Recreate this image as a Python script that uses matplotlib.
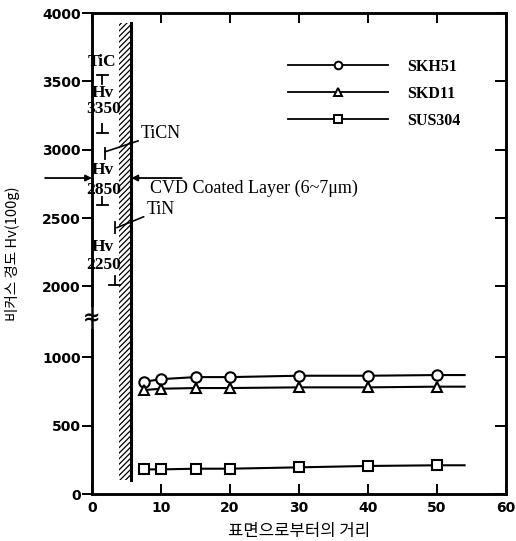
import numpy as np
import matplotlib
matplotlib.use("Agg")
import matplotlib.pyplot as plt
from matplotlib.lines import Line2D

# ---------------- data ----------------
distance = [7.5, 10, 15, 20, 30, 40, 50]
line_end = 54
skh51 = [820, 840, 855, 855, 865, 865, 870]
skd11 = [760, 770, 775, 775, 780, 780, 785]
sus304 = [180, 180, 185, 185, 195, 205, 210]
series_names = ["SKH51", "SKD11", "SUS304"]
series_markers = ["o", "^", "s"]

x_ticks = [0, 10, 20, 30, 40, 50, 60]
y_ticks = [0, 500, 1000, 2000, 2500, 3000, 3500, 4000]

coating_band = (3.9, 5.6, 100, 3930)   # x0, x1, y0, y1

# ---------------- broken y scale ----------------
GAP = 0.518


def fwd(y):
    y = np.asarray(y, float)
    return np.where(y <= 1000, y,
                    np.where(y >= 2000, y - 1000 + 1000 * GAP,
                             1000 + (y - 1000) * GAP))


def inv(u):
    u = np.asarray(u, float)
    top = 1000 + 1000 * GAP
    return np.where(u <= 1000, u,
                    np.where(u >= top, u + 1000 - 1000 * GAP,
                             1000 + (u - 1000) / GAP))


plt.rcParams['font.family'] = ['DejaVu Sans']
plt.rcParams['hatch.linewidth'] = 0.9

fig = plt.figure(figsize=(5.16, 5.41), dpi=100)
ax = fig.add_axes([92 / 516, 1 - 494 / 541, 414 / 516, 481 / 541])
ax.set_yscale('function', functions=(fwd, inv))
ax.set_xlim(0, 60)
ax.set_ylim(0, 4000)

# coating band
x0, x1, y0, y1 = coating_band
ax.fill_betweenx([y0, y1], x0, x1, facecolor='white', edgecolor='black',
                 hatch='//////', linewidth=0, zorder=2)
ax.plot([x1, x1], [y0, y1], color='black', lw=2.2, zorder=3)

# series
handles = []
for vals, name, mk in zip([skh51, skd11, sus304], series_names, series_markers):
    xs = list(distance) + [line_end]
    ys = list(vals) + [vals[-1]]
    ax.plot(xs, ys, color='black', lw=1.5, marker=mk, markersize=7.5,
            markerfacecolor='white', markeredgecolor='black',
            markeredgewidth=1.5, markevery=list(range(len(distance))), zorder=4)
    handles.append(Line2D([], [], color='black', lw=1.3, marker=mk,
                          markersize=5.5, markerfacecolor='white',
                          markeredgewidth=1.4, label=name))

leg = ax.legend(handles=handles, loc='upper left',
                bbox_to_anchor=(0.473, 0.905), frameon=False,
                handlelength=6.3, handletextpad=1.2, labelspacing=0.7,
                borderpad=0, borderaxespad=0,
                prop={'family': 'Liberation Serif', 'weight': 'bold', 'size': 11.5})

# spines and ticks
for s in ax.spines.values():
    s.set_linewidth(1.8)
ax.set_xticks(x_ticks)
ax.set_yticks(y_ticks)
ax.set_xticklabels([str(v) for v in x_ticks], fontweight='bold', fontsize=10)
ax.set_yticklabels([str(v) for v in y_ticks], fontweight='bold', fontsize=10)
ax.tick_params(axis='x', direction='in', length=7, width=1.4, top=True,
               pad=5)
ax.tick_params(axis='y', which='both', direction='out', length=7, width=1.4,
               left=True, right=False, pad=1)
ax.minorticks_off()

axr = ax.twinx()
axr.set_yscale('function', functions=(fwd, inv))
axr.set_ylim(0, 4000)
axr.set_yticks(y_ticks)
axr.set_yticklabels([])
axr.minorticks_off()
axr.tick_params(axis='y', which='both', direction='in', length=8, width=1.4,
                left=False, right=True)
for s in axr.spines.values():
    s.set_linewidth(1.8)

# axis break marker
ax.text(0, 1554, '≈', ha='center', va='center', fontsize=15,
        fontweight='bold', clip_on=False, zorder=6,
        bbox=dict(facecolor='white', edgecolor='none', pad=0.5))

# labels
ax.set_xlabel('표면으로부터의 거리', family=['Noto Sans CJK KR', 'DejaVu Sans'],
              fontsize=12, labelpad=6)
ax.set_ylabel('비커스 경도 Hv(100g)', family=['Noto Sans CJK KR', 'DejaVu Sans'],
              fontsize=10.5, labelpad=16)

# ---------------- layer annotations ----------------
serif_b = dict(family='Liberation Serif', fontweight='bold', fontsize=12.5,
               ha='center', va='center', zorder=5)
serif = dict(family='Liberation Serif', fontsize=13, va='center', zorder=5)


def bar_cap(x, y_from, y_to, cap_at, w=0.8):
    ax.plot([x, x], [y_from, y_to], color='black', lw=1.3, zorder=5)
    ax.plot([x - w, x + w], [cap_at, cap_at], color='black', lw=1.3, zorder=5)


# TiC block
ax.text(1.5, 3645, 'TiC', **serif_b)
bar_cap(1.5, 3546, 3480, 3546)
ax.text(1.5, 3415, 'Hv', **serif_b)
ax.text(1.7, 3300, '3350', **serif_b)
bar_cap(1.5, 3185, 3120, 3120)

# TiCN pointer and Hv 2850 block
ax.annotate('TiCN', xy=(1.9, 2985), xytext=(7.1, 3120),
            arrowprops=dict(arrowstyle='-', lw=1.2, color='black',
                            shrinkA=0, shrinkB=0),
            **serif)
ax.plot([1.9, 1.9], [3015, 2930], color='black', lw=1.3, zorder=5)
ax.text(1.5, 2852, 'Hv', **serif_b)
ax.text(1.7, 2705, '2850', **serif_b)
bar_cap(1.5, 2655, 2595, 2595)

# TiN pointer and Hv 2250 block
ax.annotate('TiN', xy=(3.6, 2430), xytext=(7.9, 2560),
            arrowprops=dict(arrowstyle='-', lw=1.2, color='black',
                            shrinkA=0, shrinkB=0),
            **serif)
ax.plot([3.4, 3.4], [2470, 2390], color='black', lw=1.3, zorder=5)
ax.text(1.5, 2290, 'Hv', **serif_b)
ax.text(1.7, 2157, '2250', **serif_b)
bar_cap(3.3, 2080, 2010, 2010)

# CVD coated layer arrows
ax.annotate('', xy=(0, 2793), xytext=(-6.8, 2793),
            arrowprops=dict(arrowstyle='-|>', lw=1.3, color='black',
                            shrinkA=0, shrinkB=0, mutation_scale=9),
            annotation_clip=False)
ax.annotate('', xy=(x1 + 0.1, 2793), xytext=(13.0, 2793),
            arrowprops=dict(arrowstyle='-|>', lw=1.3, color='black',
                            shrinkA=0, shrinkB=0, mutation_scale=9))
ax.text(8.4, 2720, 'CVD Coated Layer (6~7μm)', **serif)

fig.savefig('out.png', dpi=100)
